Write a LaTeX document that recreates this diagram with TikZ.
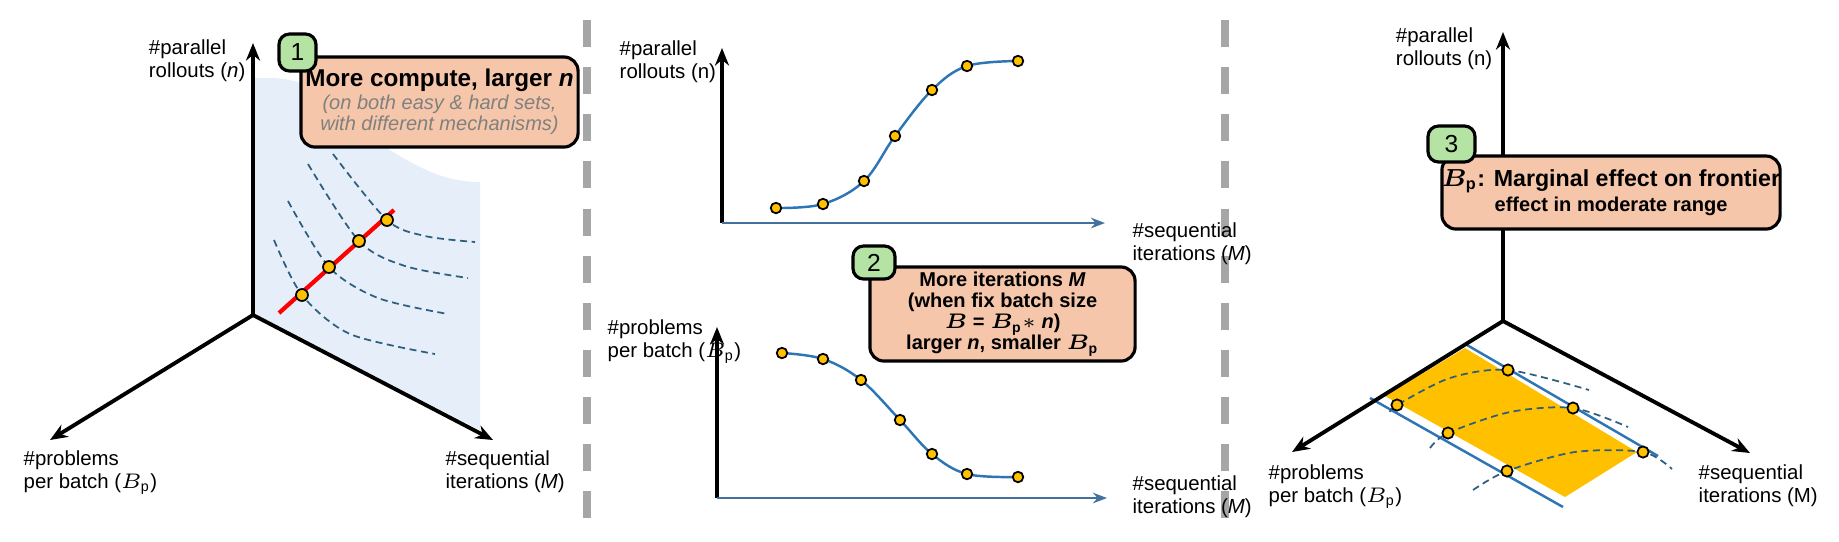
\documentclass[tikz,border=0pt]{standalone}
\usepackage{amsmath}
\usepackage{bm}
\usepackage{fontspec}
\setmainfont{Liberation Sans}
\usepackage{tikz}
\usetikzlibrary{arrows.meta, positioning, calc}
\definecolor{boxfill}{HTML}{F5C6AA}
\definecolor{tagfill}{HTML}{B4E3A3}
\definecolor{dotfill}{HTML}{FFC000}
\definecolor{curveblue}{HTML}{2E75B6}
\definecolor{arcblue}{HTML}{2F5F7F}
\definecolor{planefill}{HTML}{E6EFF9}
\definecolor{axisblue}{HTML}{41719C}
\newcommand{\Bp}{$B_{\mathrm{p}}$}
\tikzset{
  axis/.style = {line width=1.1pt, -{Stealth[length=5pt,width=4pt]}},
  xaxis/.style = {line width=0.6pt, axisblue, -{Stealth[length=4pt,width=3pt]}},
  lbl/.style = {font=\fontsize{5.8}{6.4}\selectfont, inner sep=0pt, align=left},
  note/.style = {rectangle, rounded corners=4pt, draw=black, line width=0.9pt, fill=boxfill,
                 align=center, inner sep=0pt, font=\fontsize{5.7}{6}\selectfont\bfseries},
  tag/.style = {rectangle, rounded corners=3pt, draw=black, line width=0.9pt, fill=tagfill,
                inner sep=0pt, font=\fontsize{7}{8}\selectfont},
  dot/.style = {circle, draw=black, line width=0.5pt, fill=dotfill, inner sep=0pt, minimum size=#1},
  dot/.default = 3pt,
  frontier/.style = {arcblue, line width=0.5pt, dash pattern=on 2pt off 1.3pt},
  divider/.style = {gray!70, line width=2pt, dash pattern=on 7.7pt off 5.7pt}
}
\begin{document}
\begin{tikzpicture}[x=0.01cm, y=-0.01cm]
  \useasboundingbox (0,0) rectangle (1839,541);

  % dividers
  \draw[divider] (587,20) -- (587,530);
  \draw[divider] (1225,20) -- (1225,530);

  % ---------- panel 1 ----------
  \coordinate (o1) at (253,315);
  \fill[planefill] (o1) -- (253,78) -- (273,78) .. controls (330,80) and (350,125) .. (390,150)
    .. controls (425,172) and (450,182) .. (480,182) -- (480,430) -- cycle;
  \draw[axis] (o1) -- (253,43) coordinate (n1);
  \draw[axis] (o1) -- (50,440) coordinate (b1);
  \draw[axis] (o1) -- (493,440) coordinate (m1);
  \node[lbl, anchor=north east] (n1lbl) at (246,39) {\#parallel\\rollouts (\textit{n})};
  \node[lbl, anchor=north west] (b1lbl) at (23,450) {\#problems\\per batch (\Bp)};
  \node[lbl, anchor=north west] (m1lbl) at (445,450) {\#sequential\\iterations (\textit{M})};

  \draw[frontier] plot[smooth] coordinates {(274,240) (302,295) (350,334) (435,354)};
  \draw[frontier] plot[smooth] coordinates {(288,201) (329,267) (378,298) (448,314)};
  \draw[frontier] plot[smooth] coordinates {(308,164) (359,241) (405,266) (468,278)};
  \draw[frontier] plot[smooth] coordinates {(333,154) (387,220) (425,236) (475,242)};
  \draw[red, line width=1.2pt] (279,313) -- (394,210);
  \foreach \p [count=\i] in {(302,295),(329,267),(359,241),(387,220)}
    \node[dot=3.4pt] (c1\i) at \p {};

  \node[note, minimum width=2.77cm, minimum height=0.9cm] (note1) at (439.5,102)
    {\fontsize{6.9}{7}\selectfont More compute, larger \textit{n}\\[0.5pt]
     \mdseries\itshape\color{gray}(on both easy \& hard sets,\\
     \mdseries\itshape\color{gray}with different mechanisms)};
  \node[tag, minimum width=0.37cm, minimum height=0.37cm] (tag1) at (297.5,52.5) {1};

  % ---------- panel 2 ----------
  \coordinate (o2) at (722,223);
  \draw[axis, line width=0.9pt] (o2) -- (722,48);
  \draw[xaxis] (o2) -- (1105,223);
  \node[lbl, anchor=north west] (n2lbl) at (619,40) {\#parallel\\rollouts (n)};
  \node[lbl, anchor=north west] (m2lbl) at (1132,222) {\#sequential\\iterations (\textit{M})};
  \draw[curveblue, line width=0.7pt] plot[smooth, tension=0.6] coordinates
    {(776,208) (823,204) (864,181) (895,136) (932,90) (967,66) (1018,61)};
  \foreach \p [count=\i] in {(776,208),(823,204),(864,181),(895,136),(932,90),(967,66),(1018,61)}
    \node[dot=3pt] (c2\i) at \p {};

  \coordinate (o3) at (717,498);
  \draw[axis, line width=0.9pt] (o3) -- (717,327);
  \draw[xaxis] (o3) -- (1107,498);
  \node[lbl, anchor=north west] (b3lbl) at (607,319) {\#problems\\per batch (\Bp)};
  \node[lbl, anchor=north west] (m3lbl) at (1132,475) {\#sequential\\iterations (\textit{M})};
  \draw[curveblue, line width=0.7pt] plot[smooth, tension=0.6] coordinates
    {(782,353) (823,359) (861,380) (900,420) (932,454) (967,474) (1018,477)};
  \foreach \p [count=\i] in {(782,353),(823,359),(861,380),(900,420),(932,454),(967,474),(1018,477)}
    \node[dot=3pt] (c3\i) at \p {};

  \node[note, minimum width=2.65cm, minimum height=0.94cm] (note2) at (1002.5,314)
    {More iterations \textit{M}\\(when fix batch size\\$\bm{B}$ = $\bm{B_{\mathrm{p}}}\ast$ \textit{n})\\larger \textit{n}, smaller $\bm{B_{\mathrm{p}}}$};
  \node[tag, minimum width=0.42cm, minimum height=0.33cm] (tag2) at (874,262.5) {2};

  % ---------- panel 3 ----------
  \coordinate (o4) at (1503,321);
  \fill[dotfill] (1385,396) -- (1465,348) -- (1637,452) -- (1565,497) -- cycle;
  \draw[curveblue, line width=0.7pt] (1467,345) -- (1658,456);
  \draw[curveblue, line width=0.7pt] (1370,398) -- (1563,507);
  \draw[axis] (o4) -- (1503,32) coordinate (n4);
  \draw[axis] (o4) -- (1292,452) coordinate (b4);
  \draw[axis] (o4) -- (1750,453) coordinate (m4);
  \node[lbl, anchor=north east] (n4lbl) at (1493,27) {\#parallel\\rollouts (n)};
  \node[lbl, anchor=north west] (b4lbl) at (1268,464) {\#problems\\per batch (\Bp)};
  \node[lbl, anchor=north west] (m4lbl) at (1698,464) {\#sequential\\iterations (M)};

  \draw[frontier] plot[smooth] coordinates {(1390,412) (1397,405) (1450,378) (1508,370) (1589,390)};
  \draw[frontier] plot[smooth] coordinates {(1430,448) (1448,433) (1510,412) (1573,408) (1628,427)};
  \draw[frontier] plot[smooth] coordinates {(1473,490) (1507,471) (1575,452) (1643,452) (1672,469)};
  \foreach \p [count=\i] in {(1397,405),(1508,370),(1573,408),(1448,433),(1643,452),(1507,471)}
    \node[dot=3.2pt] (c4\i) at \p {};

  \node[note, minimum width=3.14cm, minimum height=0.73cm] (note3) at (1611,192.5)
    {\fontsize{6.6}{7.6}\selectfont $\bm{B_{\mathrm{p}}}$: Marginal effect on frontier\\effect in moderate range};
  \node[tag, minimum width=0.47cm, minimum height=0.36cm] (tag3) at (1451.5,144) {3};
\end{tikzpicture}
\end{document}
